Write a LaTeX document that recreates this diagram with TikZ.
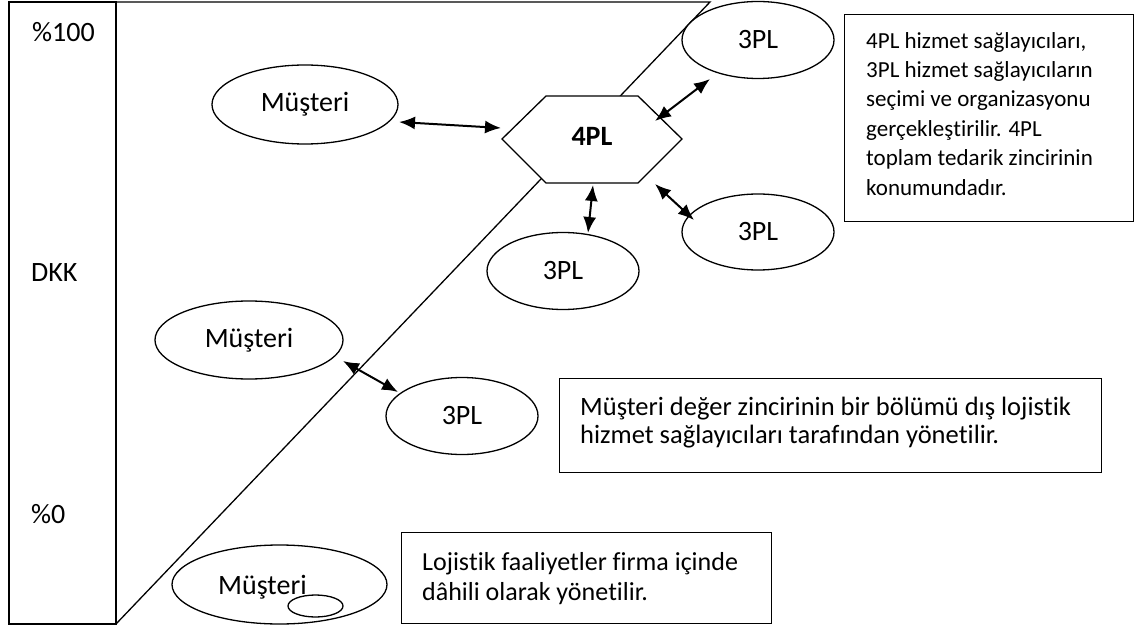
\documentclass[tikz,border=0pt]{standalone}
\usepackage{fontspec}
\setmainfont{Carlito}[Ligatures={NoCommon,NoContextual},RawFeature={-liga;-clig;-dlig;-calt}]
\usetikzlibrary{arrows.meta,shapes.geometric}
\begin{document}
\begin{tikzpicture}[x=1pt,y=-1pt,
  big/.style={font=\fontsize{28}{33}\selectfont},
  ell/.style={draw,ellipse,fill=white,line width=1.3pt,inner sep=0pt,big},
  boxframe/.style={draw,line width=1.4pt,anchor=north west,inner sep=0pt,fill=white},
  boxtext/.style={anchor=north west,inner sep=0pt,align=left},
  dbl/.style={{Latex[length=16pt,width=13pt]}-{Latex[length=16pt,width=13pt]},line width=2pt},
  ln/.style={line width=1.3pt}]
\useasboundingbox (0,0) rectangle (1142,628);
% column and wedge
\draw[ln] (9,2) rectangle (116,624);
\coordinate (ctop) at (116,2);
\coordinate (wtop) at (710,2);
\coordinate (cbot) at (116,624);
\draw[ln] (ctop) -- (wtop) -- (cbot);
\node[big,anchor=base west,inner sep=0pt] (p100) at (32,42) {\%100};
\node[big,anchor=base west,inner sep=0pt] (dkk) at (31,281) {DKK};
\node[big,anchor=base west,inner sep=0pt] (p0) at (31,523) {\%0};
% hexagon
\draw[ln,fill=white] (502,139) -- (546,96) -- (638,96) -- (682,139) -- (638,183) -- (546,183) -- cycle;
\node[font=\fontsize{28}{33}\selectfont\bfseries,anchor=base,inner sep=0pt] (h) at (592,146) {4PL};
% ellipses
\node[ell,minimum width=186pt,minimum height=79pt] (m1) at (305,104.5) {Müşteri};
\node[ell,minimum width=152pt,minimum height=77pt] (t1) at (758,40) {3PL};
\node[ell,minimum width=152pt,minimum height=76pt] (t2) at (758,232) {3PL};
\node[ell,minimum width=152pt,minimum height=77pt] (t3) at (563,271) {3PL};
\node[ell,minimum width=188pt,minimum height=78pt] (m2) at (249,340) {Müşteri};
\node[ell,minimum width=152pt,minimum height=77pt] (t4) at (462,416) {3PL};
\node[ell,minimum width=215pt,minimum height=79pt] (m3) at (279.5,584.5) {};
\node[big,anchor=base west,inner sep=0pt] (m3t) at (218,594) {Müşteri};
\node[draw,ellipse,line width=1.3pt,minimum width=55pt,minimum height=22pt,inner sep=0pt] (m3s) at (315.5,606) {};
% boxes
\node[boxframe,minimum width=289pt,minimum height=207pt] (b1) at (844,14) {};
\node[boxtext,font=\fontsize{23}{29.4}\selectfont] (b1t) at (866,25)
  {\rule{0pt}{23pt}4PL hizmet sağlayıcıları,\\3PL hizmet sağlayıcıların\\seçimi ve organizasyonu\\gerçekleş\kern0pt tirilir. 4PL\\toplam tedarik zincirinin\\konumundadır.};
\node[boxframe,minimum width=542pt,minimum height=94pt] (b2) at (559,378) {};
\node[boxtext,font=\fontsize{26.5}{28}\selectfont] (b2t) at (580,388.5)
  {\rule{0pt}{26.5pt}Müşteri değer zincirinin bir bölümü dış lojis\kern0pt tik\\hizmet sağlayıcıları tarafından yöne\kern0pt tilir.};
\node[boxframe,minimum width=370pt,minimum height=91pt] (b3) at (401,532) {};
\node[boxtext,font=\fontsize{26}{30}\selectfont] (b3t) at (422,544)
  {\rule{0pt}{26pt}Lojis\kern0pt tik faaliye\kern0pt tler firma içinde\\dâhili olarak yöne\kern0pt tilir.};
% arrows
\coordinate (a1s) at (399,122); \coordinate (a1e) at (501,128);
\coordinate (a2s) at (655,121); \coordinate (a2e) at (710,79);
\coordinate (a3s) at (593,185); \coordinate (a3e) at (588,233);
\coordinate (a4s) at (655,184); \coordinate (a4e) at (694,220);
\coordinate (a5s) at (343,361); \coordinate (a5e) at (398,392);
\draw[dbl] (a1s) -- (a1e);
\draw[dbl] (a2s) -- (a2e);
\draw[dbl] (a3s) -- (a3e);
\draw[dbl] (a4s) -- (a4e);
\draw[dbl] (a5s) -- (a5e);
\end{tikzpicture}
\end{document}
